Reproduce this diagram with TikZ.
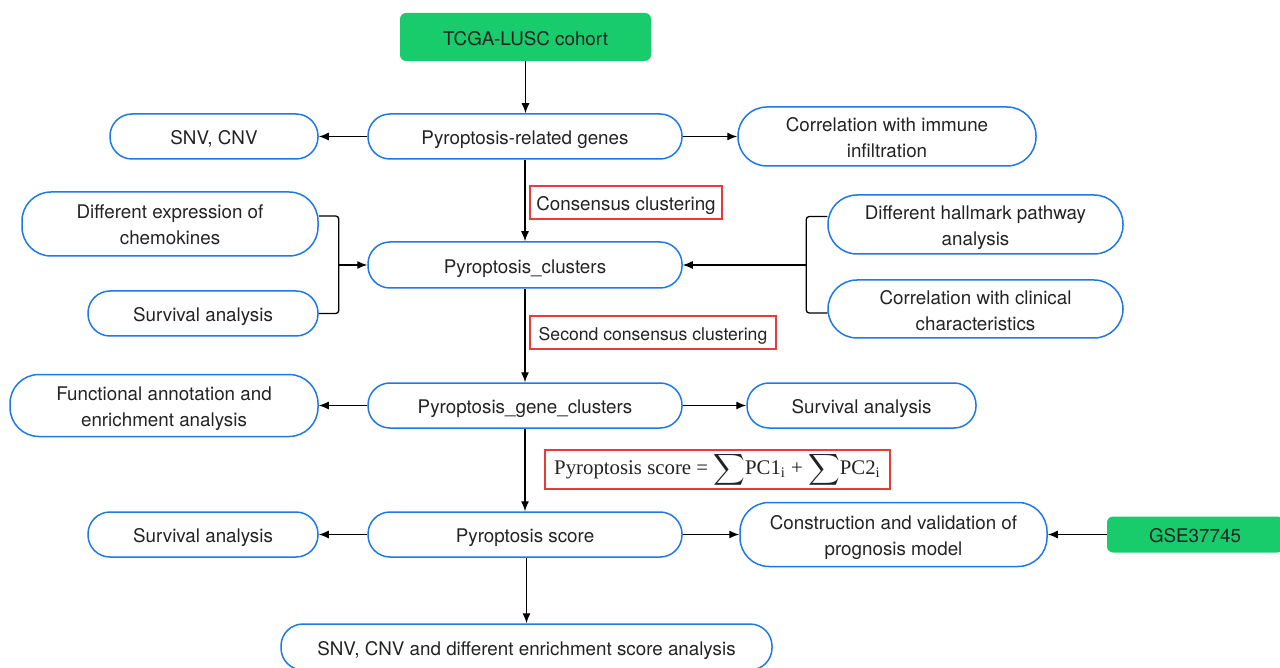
\documentclass[tikz,border=0pt]{standalone}
\usepackage{fontspec}
\usepackage{graphicx}
\setmainfont{TeX Gyre Heros}
\newfontfamily\timesf{Liberation Serif}
\usetikzlibrary{arrows.meta}
\definecolor{bblue}{RGB}{30,120,230}
\definecolor{ggreen}{RGB}{24,204,108}
\definecolor{rred}{RGB}{232,60,60}
\definecolor{txt}{RGB}{35,35,35}
\begin{document}
\begin{tikzpicture}[x=0.5pt,y=-0.5pt,
  base/.style={inner sep=0pt, align=center, text=txt, font=\fontsize{9.4}{13}\selectfont},
  one/.style={text height=9.2pt, text depth=1pt},
  two/.style={text height=22pt, text depth=1pt},
  pill/.style={base, one, draw=bblue, line width=0.75pt, rounded corners=11pt, minimum height=22.5pt},
  pilltall/.style={base, two, draw=bblue, line width=0.75pt, rounded corners=14.5pt},
  greenbox/.style={base, one, fill=ggreen, rounded corners=3pt},
  redbox/.style={base, one, draw=rred, line width=0.6pt, minimum height=16.5pt},
  arr/.style={-{Latex[length=5pt,width=4pt]}, line width=0.65pt, black},
  brk/.style={line width=0.65pt, black, rounded corners=1.5pt}]
\useasboundingbox (0,0) rectangle (1280,668);
\clip (0,0) rectangle (1280,668);

\node[greenbox, minimum width=125.5pt, minimum height=24pt] (tcga) at (525.5,37) {TCGA-LUSC cohort};
\node[pill, minimum width=157pt] (prg) at (525,136.5) {Pyroptosis-related genes};
\node[pill, minimum width=104pt] (snv) at (214,136.5) {SNV, CNV};
\node[pilltall, minimum width=149pt, minimum height=29.5pt] (imm) at (887,136.5) {Correlation with immune\\infiltration};
\node[redbox, minimum width=96pt] (cc) at (626,202.5) {Consensus clustering};
\node[pilltall, minimum width=148pt, minimum height=32pt] (chem) at (170,224) {Different expression of\\chemokines};
\node[pill, minimum width=115pt] (surv1) at (203,313.5) {Survival analysis};
\node[pill, minimum width=157pt, minimum height=23pt] (pc) at (525,265) {Pyroptosis\_clusters};
\node[pilltall, minimum width=147.5pt, minimum height=29.5pt] (hall) at (975.5,224.5) {Different hallmark pathway\\analysis};
\node[pilltall, minimum width=147.5pt, minimum height=29pt] (clin) at (975.5,309) {Correlation with clinical\\characteristics};
\node[redbox, minimum width=123pt, font=\fontsize{8.8}{12}\selectfont] (scc) at (653,332.5) {Second consensus clustering};
\node[pilltall, minimum width=154pt, minimum height=31pt] (func) at (164,405.5) {Functional annotation and\\enrichment analysis};
\node[pill, minimum width=157pt] (pgc) at (525,405.5) {Pyroptosis\_gene\_clusters};
\node[pill, minimum width=114.5pt] (surv2) at (861.5,405.5) {Survival analysis};
\node[redbox, minimum width=172.5pt, minimum height=19.5pt, text height=8pt, text depth=3pt, font=\timesf\fontsize{10.4}{12}\selectfont] (formula) at (717.5,469.5)
  {Pyroptosis score = \raisebox{-0.3pt}{\scalebox{1.1}{$\displaystyle\sum$}}PC1\textsubscript{i} + \raisebox{-0.3pt}{\scalebox{1.1}{$\displaystyle\sum$}}PC2\textsubscript{i}};
\node[pill, minimum width=115pt] (surv3) at (203,534.5) {Survival analysis};
\node[pill, minimum width=157pt] (ps) at (525,534.5) {Pyroptosis score};
\node[pilltall, minimum width=153.5pt, minimum height=32pt] (cons) at (893.5,534.5) {Construction and validation of\\prognosis model};
\node[greenbox, minimum width=88pt, minimum height=18pt] (gse) at (1195,534.5) {GSE37745};
\node[pill, minimum width=245.5pt, minimum height=23pt] (bottom) at (526.5,647) {SNV, CNV and different enrichment score analysis};

\draw[arr] (tcga.south) -- (tcga.south |- prg.north);
\draw[arr] (prg.west) -- (snv.east);
\draw[arr] (prg.east) -- (imm.west);
\draw[arr] (prg.south) -- (pc.north);
\draw[arr] (pc.south) -- (pgc.north);
\draw[arr] (pgc.west) -- (func.east);
\draw[arr] (pgc.east) -- (surv2.west);
\draw[arr] (pgc.south) -- (ps.north);
\draw[arr] (ps.west) -- (surv3.east);
\draw[arr] (ps.east) -- (cons.west);
\draw[arr] (gse.west) -- (cons.east);
\draw[arr] ([xshift=0.75pt]ps.south) -- ([xshift=0.75pt]ps.south |- bottom.north);

\draw[brk] ([yshift=4pt]chem.east) -- ++(20,0) coordinate (bl) |- (surv1.east);
\draw[arr] (bl |- pc.west) -- (pc.west);
\draw[brk] ([yshift=4pt]hall.west) -- ++(-21,0) coordinate (br) |- ([yshift=-2pt]clin.west);
\draw[arr] (br |- pc.east) -- (pc.east);
\end{tikzpicture}
\end{document}
